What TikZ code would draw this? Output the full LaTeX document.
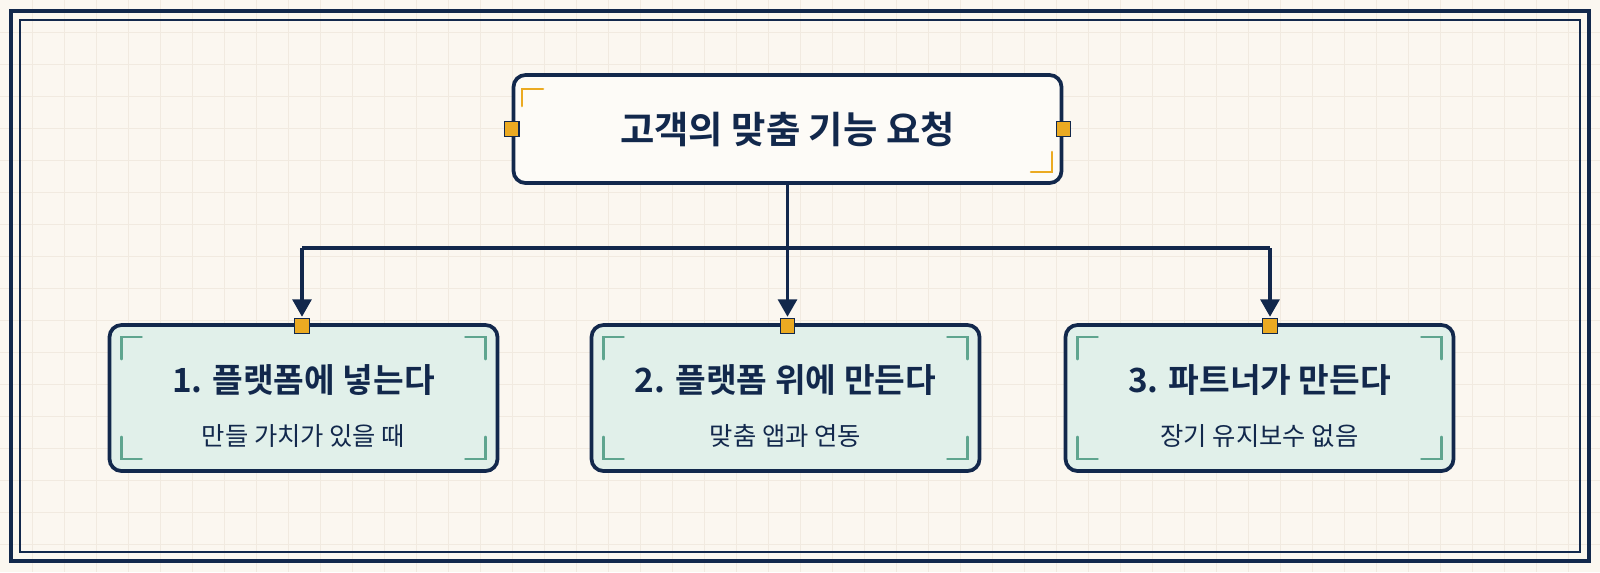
\documentclass[tikz,border=0pt]{standalone}
\usepackage{fontspec}
\newfontfamily\kr{Noto Sans CJK KR}
\newfontfamily\krb{Noto Sans CJK KR Bold}
\usetikzlibrary{arrows.meta}
\definecolor{navy}{HTML}{12284C}
\definecolor{cream}{HTML}{FBF7F0}
\definecolor{gridc}{HTML}{F1EAE0}
\definecolor{mint}{HTML}{E1F0EA}
\definecolor{gold}{HTML}{EBAA22}
\definecolor{teal}{HTML}{5FA58F}
\definecolor{paper}{HTML}{FDFBF7}
\begin{document}
\begin{tikzpicture}[x=0.75pt,y=-0.75pt,
  box/.style={draw=navy,line width=2.8pt,rounded corners=9pt,minimum height=109.5pt,minimum width=291pt,fill=mint,align=center},
  top/.style={draw=navy,line width=2.8pt,rounded corners=9pt,minimum height=81pt,minimum width=411pt,fill=paper},
  pin/.style={draw=navy,line width=0.8pt,fill=gold,minimum size=11pt,inner sep=0pt},
  conn/.style={draw=navy,line width=2.6pt},
  arr/.style={conn,-{Triangle[length=13pt,width=14pt]}},
  brk/.style={line width=2pt,line cap=round},
  ttl/.style={font=\krb\fontsize{25}{28}\selectfont,text=navy},
  sub/.style={font=\kr\fontsize{19}{22}\selectfont,text=navy}]
\fill[cream] (0,0) rectangle (1600,572);
\foreach \i in {1,...,49} \draw[gridc,line width=0.5pt] (32*\i,0) -- (32*\i,572);
\foreach \i in {1,...,17} \draw[gridc,line width=0.5pt] (0,32*\i) -- (1600,32*\i);
\draw[navy,line width=3pt] (11,11) rectangle (1589,561);
\draw[navy,line width=2.2pt] (20,20) rectangle (1580,552);
% top
\node[top] (T) at (787.5,129) {};
\node[font=\krb\fontsize{28}{32}\selectfont,text=navy] (Tt) at (T.center) {고객의 맞춤 기능 요청};
\draw[gold,brk] (522,106) -- (522,89) -- (543,89);
\draw[gold,brk] (1052,152) -- (1052,172) -- (1031,172);
\node[pin] (TL) at (T.west) {};
\node[pin] (TR) at (T.east) {};
% bottom
\node[box] (A) at (303.5,398) {};
\node[box] (B) at (785.5,398) {};
\node[box] (C) at (1259.5,398) {};
\foreach \n in {A,B,C}{
  \draw[teal,brk] ([shift={(14,36)}]\n.north west) -- ([shift={(14,14)}]\n.north west) -- ([shift={(34,14)}]\n.north west);
  \draw[teal,brk] ([shift={(-14,36)}]\n.north east) -- ([shift={(-14,14)}]\n.north east) -- ([shift={(-34,14)}]\n.north east);
  \draw[teal,brk] ([shift={(14,-36)}]\n.south west) -- ([shift={(14,-14)}]\n.south west) -- ([shift={(34,-14)}]\n.south west);
  \draw[teal,brk] ([shift={(-14,-36)}]\n.south east) -- ([shift={(-14,-14)}]\n.south east) -- ([shift={(-34,-14)}]\n.south east);
}
\node[ttl] (At) at (303.5,380) {1. 플랫폼에 넣는다};
\node[sub] (As) at (303.5,436) {만들 가치가 있을 때};
\node[ttl] (Bt) at (785.5,380) {2. 플랫폼 위에 만든다};
\node[sub] (Bs) at (785.5,436) {맞춤 앱과 연동};
\node[ttl] (Ct) at (1259.5,380) {3. 파트너가 만든다};
\node[sub] (Cs) at (1259.5,436) {장기 유지보수 없음};
\node[pin] (Ap) at (302,326) {};
\node[pin] (Bp) at (787.5,326) {};
\node[pin] (Cp) at (1270,326) {};
% connectors
\coordinate (J) at (787.5,248);
\draw[conn] (T.south) -- (J);
\draw[conn] (302,248) -- (1270,248);
\draw[arr] (J) -- ([yshift=1pt]Bp.north);
\draw[arr] (302,248) -- ([yshift=1pt]Ap.north);
\draw[arr] (1270,248) -- ([yshift=1pt]Cp.north);
\pgfresetboundingbox
\useasboundingbox (0,0) rectangle (1600,572);
\end{tikzpicture}
\end{document}
